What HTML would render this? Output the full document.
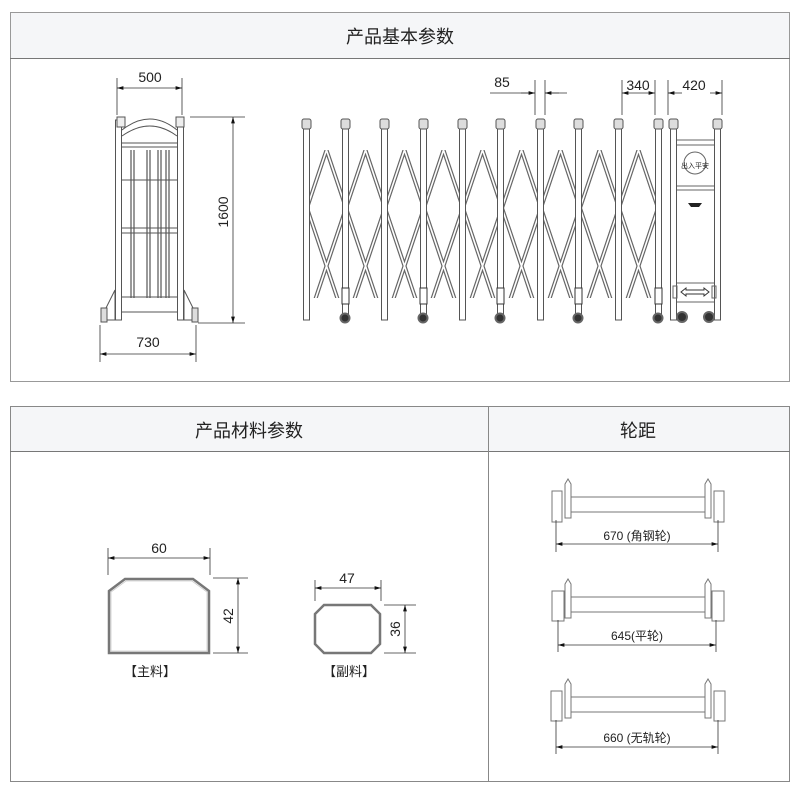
<!DOCTYPE html>
<html><head><meta charset="utf-8"><style>
html,body{margin:0;padding:0;background:#fff;}
svg{display:block;}
text{font-family:"Liberation Sans","Noto Sans CJK SC",sans-serif;fill:#222;}
</style></head><body>
<svg width="800" height="789" viewBox="0 0 800 789" xmlns="http://www.w3.org/2000/svg">
<defs>
<marker id="a" viewBox="0 0 10 6" refX="10" refY="3" markerWidth="8" markerHeight="5" orient="auto-start-reverse"><path d="M0,0L10,3L0,6z" fill="#111"/></marker>
<pattern id="lat" x="307" y="150" width="39" height="116" patternUnits="userSpaceOnUse">
<path d="M19.5,0L39,58L19.5,116L0,58Z" fill="none" stroke="#666" stroke-width="4"/>
<path d="M19.5,0L39,58L19.5,116L0,58Z" fill="none" stroke="#fff" stroke-width="1.6"/>
</pattern>
</defs>
<!-- top box -->
<rect x="10.5" y="12.5" width="779" height="369" fill="#fff" stroke="#999"/>
<rect x="11" y="13" width="778" height="45" fill="#f5f6f8"/>
<line x1="10" y1="58.5" x2="790" y2="58.5" stroke="#777"/>
<text x="400" y="43" font-size="18" text-anchor="middle">产品基本参数</text>
<!-- bottom box -->
<rect x="10.5" y="406.5" width="779" height="375" fill="#fff" stroke="#888"/>
<rect x="11" y="407" width="778" height="44" fill="#f5f6f8"/>
<line x1="10" y1="451.5" x2="790" y2="451.5" stroke="#777"/>
<line x1="488.5" y1="406" x2="488.5" y2="782" stroke="#888"/>
<text x="249" y="437" font-size="18" text-anchor="middle">产品材料参数</text>
<text x="638" y="437" font-size="18" text-anchor="middle">轮距</text>

<g stroke="#555" fill="none" stroke-width="1">
<!-- front gate -->
<rect x="115.5" y="120" width="6" height="200"/>
<rect x="177.5" y="120" width="6" height="200"/>
<path d="M117,117 h8 v10 h-8z M176,117 h8 v10 h-8z" fill="#eee"/>
<path d="M122,130 Q150,108 177,130"/>
<path d="M122,136 Q150,116 177,136"/>
<line x1="122" y1="143" x2="177" y2="143"/>
<line x1="122" y1="147" x2="177" y2="147"/>
<g stroke="#333">
<line x1="131" y1="150" x2="131" y2="298"/><line x1="134" y1="150" x2="134" y2="298"/>
<line x1="147" y1="150" x2="147" y2="298"/><line x1="150" y1="150" x2="150" y2="298"/>
<line x1="158" y1="150" x2="158" y2="298"/><line x1="161" y1="150" x2="161" y2="298"/>
<line x1="166" y1="150" x2="166" y2="298"/><line x1="169" y1="150" x2="169" y2="298"/>
</g>
<line x1="122" y1="180" x2="177" y2="180"/><line x1="122" y1="228" x2="177" y2="228"/><line x1="122" y1="233" x2="177" y2="233"/><line x1="122" y1="297" x2="177" y2="297"/>
<line x1="122" y1="312" x2="177" y2="312"/>
<path d="M115,290 L105,310 L105,320 L115,320z M184,290 L194,310 L194,320 L184,320z"/>
<rect x="101" y="308" width="6" height="14" fill="#ddd"/><rect x="192" y="308" width="6" height="14" fill="#ddd"/>
</g>
<!-- front dims -->
<g stroke="#333" stroke-width="0.8">
<line x1="117" y1="78" x2="117" y2="115"/><line x1="182" y1="78" x2="182" y2="115"/>
<line x1="117" y1="88" x2="182" y2="88" marker-start="url(#a)" marker-end="url(#a)"/>
<line x1="190" y1="117" x2="245" y2="117"/><line x1="198" y1="323" x2="245" y2="323"/>
<line x1="233" y1="117" x2="233" y2="323" marker-start="url(#a)" marker-end="url(#a)"/>
<line x1="100" y1="325" x2="100" y2="362"/><line x1="196" y1="325" x2="196" y2="362"/>
<line x1="100" y1="354" x2="196" y2="354" marker-start="url(#a)" marker-end="url(#a)"/>
</g>
<text x="150" y="82" font-size="14" text-anchor="middle">500</text>
<text x="148" y="347" font-size="14" text-anchor="middle">730</text>
<text transform="translate(228,212) rotate(-90)" font-size="14" text-anchor="middle">1600</text>

<!-- side gate lattice -->
<rect x="307" y="150" width="351" height="148" fill="url(#lat)"/>
<g fill="#fff" stroke="#555">
<rect x="303.5" y="128" width="6" height="192"/>
<rect x="342.5" y="128" width="6" height="192"/>
<rect x="381.5" y="128" width="6" height="192"/>
<rect x="420.5" y="128" width="6" height="192"/>
<rect x="459.5" y="128" width="6" height="192"/>
<rect x="497.5" y="128" width="6" height="192"/>
<rect x="537.5" y="128" width="6" height="192"/>
<rect x="575.5" y="128" width="6" height="192"/>
<rect x="615.5" y="128" width="6" height="192"/>
<rect x="655.5" y="128" width="6" height="192"/>
<rect x="670.5" y="128" width="6" height="192"/>
<rect x="714.5" y="128" width="6" height="192"/>
</g>
<g fill="#ddd" stroke="#555">
<rect x="302" y="119" width="9" height="10" rx="2"/><rect x="341" y="119" width="9" height="10" rx="2"/>
<rect x="380" y="119" width="9" height="10" rx="2"/><rect x="419" y="119" width="9" height="10" rx="2"/>
<rect x="458" y="119" width="9" height="10" rx="2"/><rect x="496" y="119" width="9" height="10" rx="2"/>
<rect x="536" y="119" width="9" height="10" rx="2"/><rect x="574" y="119" width="9" height="10" rx="2"/>
<rect x="614" y="119" width="9" height="10" rx="2"/><rect x="654" y="119" width="9" height="10" rx="2"/>
<rect x="669" y="119" width="9" height="10" rx="2"/><rect x="713" y="119" width="9" height="10" rx="2"/>
</g>
<g fill="#fff" stroke="#333">
<rect x="342" y="288" width="7" height="16"/><rect x="420" y="288" width="7" height="16"/>
<rect x="497" y="288" width="7" height="16"/><rect x="575" y="288" width="7" height="16"/>
<rect x="655" y="288" width="7" height="16"/>
</g>
<g fill="#333" stroke="#666" stroke-width="2">
<circle cx="345" cy="318" r="4.5"/><circle cx="423" cy="318" r="4.5"/><circle cx="500" cy="318" r="4.5"/><circle cx="578" cy="318" r="4.5"/><circle cx="658" cy="318" r="4.5"/>
<circle cx="682" cy="317" r="5"/><circle cx="709" cy="317" r="5"/>
</g>
<!-- control box -->
<g stroke="#666" fill="none">
<line x1="677" y1="140" x2="714" y2="140"/><line x1="677" y1="145" x2="714" y2="145"/>
<line x1="677" y1="186" x2="714" y2="186"/><line x1="677" y1="190" x2="714" y2="190"/>
<line x1="677" y1="283" x2="714" y2="283"/><line x1="677" y1="302" x2="714" y2="302"/>
<circle cx="695" cy="163" r="11"/>
<path d="M681,292 l5,-4 v2 h18 v-2 l5,4 l-5,4 v-2 h-18 v2z" stroke="#333"/>
<rect x="673" y="286" width="4" height="12"/><rect x="712" y="286" width="4" height="12"/>
</g>
<text x="695" y="168" font-size="7" text-anchor="middle" fill="#333">出入平安</text>
<path d="M688,203 h14 l-3,4 h-8z" fill="#222"/>
<!-- side dims -->
<g stroke="#333" stroke-width="0.8">
<line x1="535" y1="80" x2="535" y2="115"/><line x1="545" y1="80" x2="545" y2="115"/>
<line x1="490" y1="93" x2="535" y2="93"/><line x1="521" y1="93" x2="535" y2="93" marker-end="url(#a)"/>
<line x1="545" y1="93" x2="567" y2="93"/><line x1="559" y1="93" x2="545" y2="93" marker-end="url(#a)"/>
<line x1="622" y1="80" x2="622" y2="115"/><line x1="655" y1="80" x2="655" y2="115"/>
<line x1="622" y1="93" x2="655" y2="93" marker-start="url(#a)" marker-end="url(#a)"/>
<line x1="668" y1="80" x2="668" y2="115"/><line x1="722" y1="80" x2="722" y2="115"/>
<line x1="668" y1="93" x2="682" y2="93" marker-start="url(#a)"/><line x1="710" y1="93" x2="722" y2="93" marker-end="url(#a)"/>
</g>
<text x="502" y="87" font-size="14" text-anchor="middle">85</text>
<text x="638" y="90" font-size="14" text-anchor="middle">340</text>
<text x="694" y="90" font-size="14" text-anchor="middle">420</text>

<!-- profiles -->
<path d="M109,591 L125,579 L193,579 L209,591 L209,653 L109,653Z" fill="#fff" stroke="#777" stroke-width="2.5"/>
<path d="M111,592 L126,581 L192,581 L207,592 L207,651 L111,651Z" fill="none" stroke="#ccc" stroke-width="0.8"/>
<g stroke="#333" stroke-width="0.8">
<line x1="108" y1="548" x2="108" y2="575"/><line x1="210" y1="548" x2="210" y2="575"/>
<line x1="108" y1="558" x2="210" y2="558" marker-start="url(#a)" marker-end="url(#a)"/>
<line x1="213" y1="578" x2="248" y2="578"/><line x1="213" y1="653" x2="248" y2="653"/>
<line x1="238" y1="578" x2="238" y2="653" marker-start="url(#a)" marker-end="url(#a)"/>
</g>
<text x="159" y="553" font-size="14" text-anchor="middle">60</text>
<text transform="translate(233,616) rotate(-90)" font-size="14" text-anchor="middle">42</text>
<text x="150" y="676" font-size="13" text-anchor="middle">【主料】</text>

<path d="M324,605 L371,605 L380,614 L380,644 L371,653 L324,653 L315,644 L315,614Z" fill="#fff" stroke="#777" stroke-width="2.5"/>
<g stroke="#333" stroke-width="0.8">
<line x1="315" y1="580" x2="315" y2="601"/><line x1="381" y1="580" x2="381" y2="601"/>
<line x1="315" y1="588" x2="381" y2="588" marker-start="url(#a)" marker-end="url(#a)"/>
<line x1="384" y1="605" x2="416" y2="605"/><line x1="384" y1="653" x2="416" y2="653"/>
<line x1="405" y1="605" x2="405" y2="653" marker-start="url(#a)" marker-end="url(#a)"/>
</g>
<text x="347" y="583" font-size="14" text-anchor="middle">47</text>
<text transform="translate(400,629) rotate(-90)" font-size="14" text-anchor="middle">36</text>
<text x="349" y="676" font-size="13" text-anchor="middle">【副料】</text>

<!-- wheel axles -->
<g stroke="#777" fill="#fff" stroke-width="1">
<!-- row1 -->
<path d="M552,491 h10 v31 h-10z M714,491 h10 v31 h-10z"/>
<path d="M565,518 v-34 l3,-5 l3,5 v34z M705,518 v-34 l3,-5 l3,5 v34z"/>
<line x1="571" y1="497" x2="705" y2="497"/><line x1="571" y1="512" x2="705" y2="512"/>
<!-- row2 -->
<path d="M552,591 h12 v30 h-12z M712,591 h12 v30 h-12z"/>
<path d="M565,618 v-34 l3,-5 l3,5 v34z M705,618 v-34 l3,-5 l3,5 v34z"/>
<line x1="571" y1="597" x2="705" y2="597"/><line x1="571" y1="612" x2="705" y2="612"/>
<!-- row3 -->
<path d="M551,691 h11 v30 h-11z M714,691 h11 v30 h-11z"/>
<path d="M565,718 v-34 l3,-5 l3,5 v34z M705,718 v-34 l3,-5 l3,5 v34z"/>
<line x1="571" y1="697" x2="705" y2="697"/><line x1="571" y1="712" x2="705" y2="712"/>
</g>
<g stroke="#333" stroke-width="0.8">
<line x1="556" y1="520" x2="556" y2="552"/><line x1="718" y1="520" x2="718" y2="552"/>
<line x1="556" y1="544" x2="718" y2="544" marker-start="url(#a)" marker-end="url(#a)"/>
<line x1="558" y1="620" x2="558" y2="652"/><line x1="716" y1="620" x2="716" y2="652"/>
<line x1="558" y1="645" x2="716" y2="645" marker-start="url(#a)" marker-end="url(#a)"/>
<line x1="556" y1="720" x2="556" y2="754"/><line x1="718" y1="720" x2="718" y2="754"/>
<line x1="556" y1="747" x2="718" y2="747" marker-start="url(#a)" marker-end="url(#a)"/>
</g>
<text x="637" y="540" font-size="12" text-anchor="middle">670 (角钢轮)</text>
<text x="637" y="640" font-size="12" text-anchor="middle">645(平轮)</text>
<text x="637" y="742" font-size="12" text-anchor="middle">660 (无轨轮)</text>
</svg>
</body></html>
